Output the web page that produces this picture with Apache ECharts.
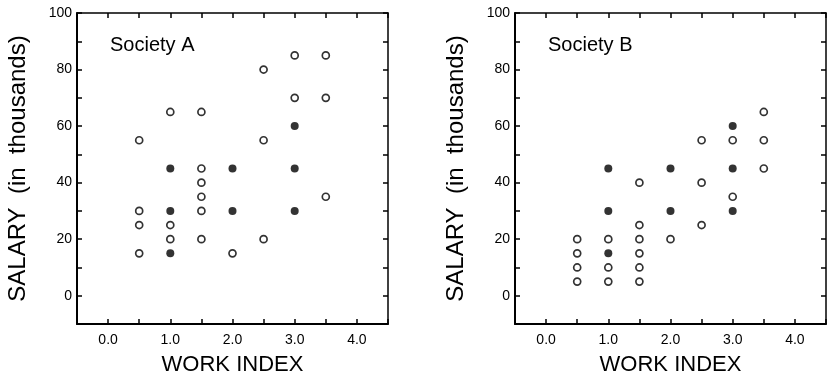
<!DOCTYPE html>
<html>
<head>
<meta charset="utf-8">
<script src="https://cdn.jsdelivr.net/npm/echarts@6/dist/echarts.min.js"></script>
<style>
html,body{margin:0;padding:0;background:#fff;}
#c{width:828px;height:376px;}
</style>
</head>
<body>
<div id="c"></div>
<script>
// Society A: [work index, salary (thousands)]
const societyA_open = [[0.5,55],[0.5,30],[0.5,25],[0.5,15],[1.0,65],[1.0,25],[1.0,20],[1.5,65],[1.5,45],[1.5,40],[1.5,35],[1.5,30],[1.5,20],[2.0,15],[2.5,80],[2.5,55],[2.5,20],[3.0,85],[3.0,70],[3.5,85],[3.5,70],[3.5,35]];
const societyA_filled = [[1.0,45],[1.0,30],[1.0,15],[2.0,45],[2.0,30],[3.0,60],[3.0,45],[3.0,30]];
// Society B
const societyB_open = [[0.5,20],[0.5,15],[0.5,10],[0.5,5],[1.0,20],[1.0,10],[1.0,5],[1.5,40],[1.5,25],[1.5,20],[1.5,15],[1.5,10],[1.5,5],[2.0,20],[2.5,55],[2.5,40],[2.5,25],[3.0,55],[3.0,35],[3.5,65],[3.5,55],[3.5,45]];
const societyB_filled = [[1.0,45],[1.0,30],[1.0,15],[2.0,45],[2.0,30],[3.0,60],[3.0,45],[3.0,30]];
const panelTitles = ['Society A','Society B'];
const xTitle = 'WORK INDEX';
const yTitle = 'SALARY  (in  thousands)';

const FONT = '"Liberation Sans",Arial,sans-serif';
const chart = echarts.init(document.getElementById('c'));
const grids = [
  {left:77, top:13, width:311, height:311, containLabel:false, outerBoundsMode:'none'},
  {left:515, top:13, width:311, height:311, containLabel:false, outerBoundsMode:'none'}
];
const xAxes = [], yAxes = [], series = [];
const sets = [[societyA_open, societyA_filled],[societyB_open, societyB_filled]];
grids.forEach((g,i)=>{
  const base = {
    gridIndex:i, type:'value', min:-0.5, max:4.5, interval:0.5,
    axisLine:{show:true, onZero:false, lineStyle:{color:'#000', width:2}},
    axisTick:{show:true, inside:true, length:5, lineStyle:{color:'#000', width:1.5}},
    splitLine:{show:false}
  };
  xAxes.push(Object.assign({}, base, {
    position:'bottom',
    name:xTitle, nameLocation:'middle', nameGap:30,
    nameTextStyle:{fontFamily:FONT, fontSize:22, color:'#000'},
    axisLabel:{show:true, margin:9, fontFamily:FONT, fontSize:14, color:'#000',
      formatter:v=> (Math.abs(v-Math.round(v))<1e-9 && v>=0 && v<=4) ? v.toFixed(1) : ''}
  }));
  xAxes.push(Object.assign({}, base, {
    position:'top', axisLabel:{show:false},
    axisLine:{show:true, onZero:false, lineStyle:{color:'#000', width:1.5}}
  }));
  const ybase = {
    gridIndex:i, type:'value', min:-10, max:100, interval:10,
    axisLine:{show:true, onZero:false, lineStyle:{color:'#000', width:2}},
    axisTick:{show:true, inside:true, length:5, lineStyle:{color:'#000', width:1.5}},
    splitLine:{show:false}
  };
  yAxes.push(Object.assign({}, ybase, {
    position:'left',
    name:yTitle, nameLocation:'middle', nameGap:47, nameRotate:90,
    nameTextStyle:{fontFamily:FONT, fontSize:24, color:'#000'},
    axisLabel:{show:true, margin:5, fontFamily:FONT, fontSize:14, color:'#000',
      formatter:v=> (v>=0 && v%20===0) ? String(v) : ''}
  }));
  yAxes.push(Object.assign({}, ybase, {
    position:'right', axisLabel:{show:false},
    axisLine:{show:true, onZero:false, lineStyle:{color:'#000', width:1.5}}
  }));
  series.push({
    type:'scatter', xAxisIndex:2*i, yAxisIndex:2*i, data:sets[i][0],
    symbol:'circle', symbolSize:7,
    itemStyle:{color:'#fff', borderColor:'#000', borderWidth:1.7},
    silent:true
  });
  series.push({
    type:'scatter', xAxisIndex:2*i, yAxisIndex:2*i, data:sets[i][1],
    symbol:'circle', symbolSize:8,
    itemStyle:{color:'#000', borderColor:'#000', borderWidth:0},
    silent:true
  });
});
chart.setOption({
  animation:false,
  backgroundColor:'#fff',
  title: panelTitles.map((t,i)=>({
    text:t, left: grids[i].left + 28, top: 30,
    textStyle:{fontFamily:FONT, fontSize:20, fontWeight:'normal', color:'#000'}
  })),
  grid:grids,
  xAxis:xAxes,
  yAxis:yAxes,
  series:series
});
</script>
</body>
</html>
